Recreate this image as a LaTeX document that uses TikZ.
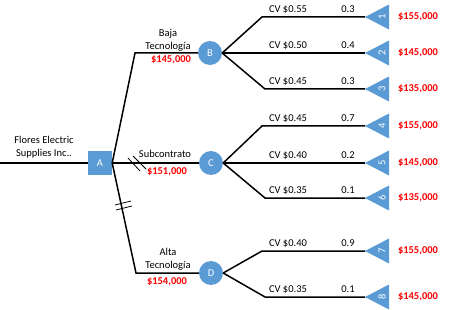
\documentclass[tikz,border=0pt]{standalone}
\usepackage{fontspec}
\setmainfont{Carlito}
\usepackage{tikz}
\usetikzlibrary{positioning}
\definecolor{nodeblue}{RGB}{91,155,213}
\definecolor{payred}{RGB}{255,0,0}

\begin{document}
\begin{tikzpicture}[x=1pt, y=-1pt, font=\fontsize{10.5}{12.5}\selectfont,
  branch/.style={line width=1.5pt},
  chance/.style={circle, fill=nodeblue, text=white, minimum size=24pt, inner sep=0pt},
  decision/.style={rectangle, fill=nodeblue, text=white, minimum size=24pt, inner sep=0pt},
  leaf/.style={fill=nodeblue},
  money/.style={text=payred, font=\fontsize{10.5}{12.5}\selectfont\bfseries, inner sep=1pt},
  tag/.style={inner sep=1pt},
  cut/.style={line width=0.8pt}]
  \useasboundingbox (0,0) rectangle (450,310);

  % decision and chance nodes
  \coordinate (start) at (0,163);
  \node[decision] (A) at (100,163) {A};
  \node[chance] (B) at (210,53) {B};
  \node[chance] (C) at (211,163) {C};
  \node[chance] (D) at (211,273) {D};
  \coordinate (kB) at (135,53);
  \coordinate (kD) at (136,273);

  \draw[branch] (start) -- (A.west);
  \draw[branch] (A.east) -- (kB) -- (B);
  \draw[branch] (A.east) -- (C);
  \draw[branch] (A.east) -- (kD) -- (D);

  \node[tag, align=center] (firm) at (44,147) {Flores Electric\\Supplies Inc..};
  \node[tag, align=center] (bajaT) at (168,40.5) {Baja\\Tecnología};
  \node[money] (bajaV) at (171,60) {\$145,000};
  \node[tag] (subT) at (165,154) {Subcontrato};
  \node[money] (subV) at (167,172) {\$151,000};
  \node[tag, align=center] (altaT) at (168,259.5) {Alta\\Tecnología};
  \node[money] (altaV) at (167,282) {\$154,000};

  % pruned branches
  \draw[cut] (128,158) -- (140,171);
  \draw[cut] (133,156) -- (146,169);
  \draw[cut] (115,205) -- (131,201);
  \draw[cut] (116,210) -- (132,206);

  % end nodes
  \foreach \lf/\src/\bx/\ly/\cost/\prob/\pay in {1/B/262/17/0.55/0.3/155, 2/B/262/53/0.50/0.4/145,
      3/B/265/89/0.45/0.3/135, 4/C/262/126/0.45/0.7/155, 5/C/262/163/0.40/0.2/145,
      6/C/265/198/0.35/0.1/135, 7/D/262/251/0.40/0.9/155, 8/D/265/297/0.35/0.1/145}{
    \coordinate (p\lf) at (365,\ly);
    \coordinate (k\lf) at (\bx,\ly);
    \fill[leaf] (p\lf) -- ++(24,-12.5) -- ++(0,25) -- cycle;
    \node[text=white, rotate=90, inner sep=0pt] (n\lf) at (382,\ly) {\lf};
    \draw[branch] (\src.east) -- (k\lf) -- (p\lf);
    \node[tag] (cv\lf) at (288,\ly-7.5) {CV \$\cost};
    \node[tag] (pr\lf) at (348,\ly-7.5) {\prob};
    \node[money] (pay\lf) at (418,\ly) {\$\pay,000};
  }
\end{tikzpicture}
\end{document}
